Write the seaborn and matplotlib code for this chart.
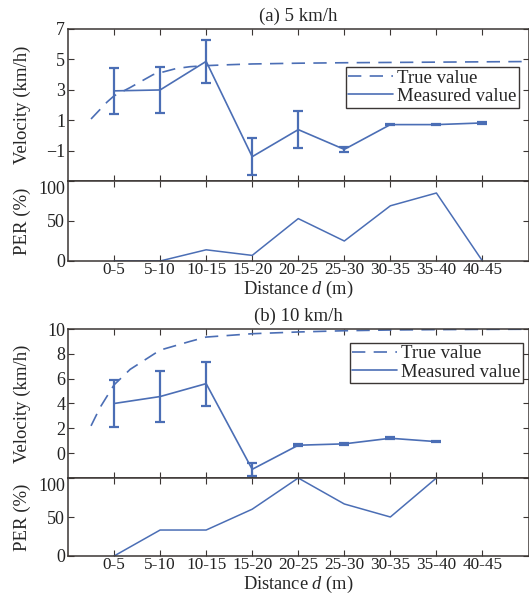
import matplotlib
matplotlib.use("Agg")
import numpy as np
import pandas as pd
import matplotlib.pyplot as plt
import seaborn as sns

# category labels on the distance axis (positions 1..9)
distance_labels = ["0-5", "5-10", "10-15", "15-20", "20-25", "25-30", "30-35", "35-40", "40-45"]

# (a) 5 km/h
true_a_x = [0.5, 0.85, 1, 1.35, 1.85, 2.35, 2.65, 3, 3.5, 4, 5, 6, 7, 8, 9, 10]
true_a_y = [1.08, 2.2, 2.6, 3.15, 4.0, 4.4, 4.52, 4.59, 4.65, 4.7, 4.75, 4.78, 4.8, 4.82, 4.84, 4.86]
meas_a = [2.93, 2.99, 4.87, -1.4, 0.38, -0.92, 0.71, 0.71, 0.82]
err_a = [1.51, 1.52, 1.42, 1.22, 1.2, 0.14, 0.05, 0.05, 0.07]
per_a = [0, 0, 14, 7, 53, 25, 69, 85, 0]

# (b) 10 km/h
true_b_x = [0.5, 0.7, 1, 1.35, 2, 2.65, 3, 4, 5, 6, 7, 8, 9, 10]
true_b_y = [2.2, 3.7, 5.5, 6.75, 8.3, 9.0, 9.35, 9.62, 9.76, 9.86, 9.92, 9.95, 9.97, 9.98]
meas_b = [4.0, 4.56, 5.6, -1.3, 0.64, 0.75, 1.2, 0.93]
err_b = [1.9, 2.05, 1.78, 0.5, 0.07, 0.07, 0.09, 0.07]
per_b = [0, 33.3, 33.3, 60, 100, 66.7, 50, 100]

sns.set_style("ticks")
plt.rcParams['font.family'] = ['Liberation Serif', 'DejaVu Serif']
plt.rcParams['mathtext.fontset'] = 'custom'
plt.rcParams['mathtext.rm'] = 'Liberation Serif'
plt.rcParams['mathtext.it'] = 'Liberation Serif:italic'

blue = "#4B6EB5"
edge = "#3b3634"
W, H = 529, 596

fig = plt.figure(figsize=(W / 100, H / 100), dpi=100)


def box(top, bottom):
    left, right = 68, 528.5
    return [left / W, 1 - bottom / H, (right - left) / W, (bottom - top) / H]


def style_axes(ax):
    for s in ax.spines.values():
        s.set_color(edge)
        s.set_linewidth(1.1)
    ax.tick_params(direction="in", top=True, right=True, length=4, width=0.8,
                   color=edge, labelsize=13, labelcolor="#222222", pad=2)
    ax.tick_params(axis="x", labelsize=12.4, pad=1)
    ax.set_xlim(0, 10)
    ax.set_xticks(range(1, 10))


def velocity_panel(ax, tx, ty, meas, err, ylim, yticks, title, leg_anchor):
    df_true = pd.DataFrame({"x": tx, "v": ty})
    pos = list(range(1, len(meas) + 1))
    df_meas = pd.DataFrame({"x": pos, "v": meas})
    sns.lineplot(data=df_true, x="x", y="v", ax=ax, color=blue, lw=1.2,
                 label="True value", linestyle=(0, (8, 5)))
    sns.lineplot(data=df_meas, x="x", y="v", ax=ax, color=blue, lw=1.2,
                 label="Measured value")
    ax.errorbar(pos, meas, yerr=err, fmt="none", ecolor=blue, elinewidth=1.6,
                capsize=3.5, capthick=1.6)
    style_axes(ax)
    ax.set_ylim(*ylim)
    ax.set_yticks(yticks)
    ax.set_xticklabels([])
    ax.set_xlabel("")
    ax.set_ylabel("Velocity (km/h)", fontsize=13.5)
    ax.yaxis.set_label_coords(-0.08, 0.5)
    ax.set_title(title, fontsize=13.5, pad=6)
    leg = ax.legend(loc="upper right", bbox_to_anchor=leg_anchor, borderaxespad=0,
                    fancybox=False, framealpha=1, edgecolor=edge, fontsize=13.5,
                    handlelength=2.4, handletextpad=0.2, labelspacing=0.05,
                    borderpad=0.15)
    leg.get_frame().set_linewidth(1.0)


def per_panel(ax, per):
    pos = list(range(1, len(per) + 1))
    df = pd.DataFrame({"x": pos, "p": per})
    sns.lineplot(data=df, x="x", y="p", ax=ax, color=blue, lw=1.1)
    style_axes(ax)
    ax.set_ylim(0, 100)
    ax.set_yticks([0, 50, 100])
    ax.set_xticklabels(distance_labels)
    ax.set_ylabel("PER (%)", fontsize=13.5)
    ax.yaxis.set_label_coords(-0.08, 0.5)
    ax.set_xlabel("Distance $d$ (m)", fontsize=13.2, labelpad=0)
    ax.get_yticklabels()[-1].set_verticalalignment("top")


ax1 = fig.add_axes(box(29, 181))
velocity_panel(ax1, true_a_x, true_a_y, meas_a, err_a, (-3, 7), [-1, 1, 3, 5, 7],
               "(a) 5 km/h", (0.98, 0.75))
ax2 = fig.add_axes(box(181, 261))
per_panel(ax2, per_a)

ax3 = fig.add_axes(box(329, 478))
velocity_panel(ax3, true_b_x, true_b_y, meas_b, err_b, (-2, 10), [0, 2, 4, 6, 8, 10],
               "(b) 10 km/h", (0.989, 0.909))
ax4 = fig.add_axes(box(478, 556))
per_panel(ax4, per_b)

fig.savefig("out.png", dpi=100, facecolor="white")
